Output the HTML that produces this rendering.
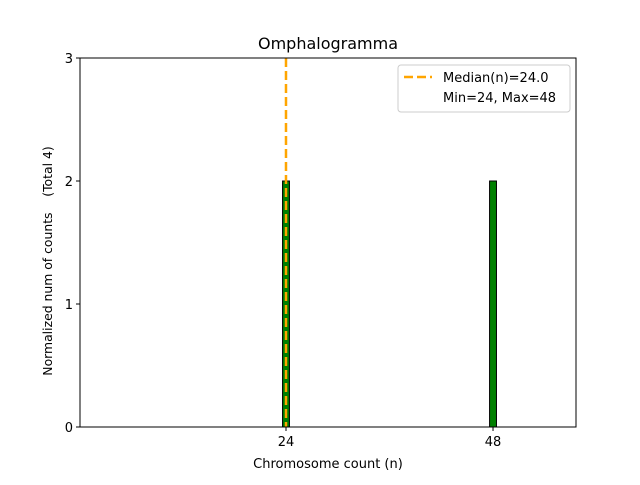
<!DOCTYPE html>
<html><head><meta charset="utf-8"><style>
body{margin:0;background:#fff;}
svg text{font-family:"DejaVu Sans","Liberation Sans",sans-serif;}
</style></head><body>
<svg id="chart" width="640" height="480" xmlns="http://www.w3.org/2000/svg">
<rect width="640" height="480" fill="#fff"/>
<g id="plot"></g>
</svg>
<script>
const categories = [24, 48];
const counts = [2, 2];
const yTicks = [0, 1, 2, 3];
const xTicks = [24, 48];
const medianValue = [24.0];

const L=80,R=576,T=58,B=427;
const xmin=0.12,xmax=57.62,ymin=0,ymax=3;
const xs=v=>L+(v-xmin)/(xmax-xmin)*(R-L);
const ys=v=>B-(v-ymin)/(ymax-ymin)*(B-T);
const NS='http://www.w3.org/2000/svg';
const g=document.getElementById('plot');
function mk(tag,attrs,text){const e=document.createElementNS(NS,tag);for(const k in attrs)e.setAttribute(k,attrs[k]);if(text!==undefined)e.textContent=text;g.appendChild(e);return e;}

categories.forEach((c,i)=>{
  const x0=xs(c-0.4),x1=xs(c+0.4);
  const b=mk('rect',{x:x0,y:ys(counts[i]),width:x1-x0,height:ys(0)-ys(counts[i]),fill:'#008000',stroke:'#000','stroke-width':1});
  
  
});
const med=mk('line',{x1:xs(medianValue[0]),x2:xs(medianValue[0]),y1:T,y2:B,stroke:'#ffa500','stroke-width':2.5,'stroke-dasharray':'9,4'});



const frame=mk('rect',{x:L,y:T,width:R-L,height:B-T,fill:'none',stroke:'#000','stroke-width':1});



yTicks.forEach(t=>{
  mk('line',{x1:L-4,x2:L,y1:ys(t),y2:ys(t),stroke:'#000'});
  const tx=mk('text',{x:L-7,y:ys(t)+5,'text-anchor':'end','font-size':13},t);
  
  
});
xTicks.forEach(t=>{
  mk('line',{x1:xs(t),x2:xs(t),y1:B,y2:B+4,stroke:'#000'});
  const tx=mk('text',{x:xs(t),y:B+19,'text-anchor':'middle','font-size':13},t);
  
  
});
</script>
<svg style="position:absolute;left:0;top:0" width="640" height="480" xmlns="http://www.w3.org/2000/svg">
<text x="328" y="49" text-anchor="middle" font-size="16">Omphalogramma</text>
<text x="328" y="468" text-anchor="middle" font-size="13">Chromosome count (n)</text>
<text transform="translate(52,261) rotate(-90)" text-anchor="middle" font-size="12.4" style="white-space:pre">Normalized num of counts    (Total 4)</text>
<g>
<rect x="398" y="65" width="172" height="47" rx="3" fill="#fff" stroke="#ccc"/>
<line x1="404" y1="77" x2="432" y2="77" stroke="#ffa500" stroke-width="2.5" stroke-dasharray="9,4"/>
<text x="443" y="82" font-size="13">Median(n)=24.0</text>
<text x="443" y="102" font-size="13">Min=24, Max=48</text>
</g>
</svg>
</body></html>
